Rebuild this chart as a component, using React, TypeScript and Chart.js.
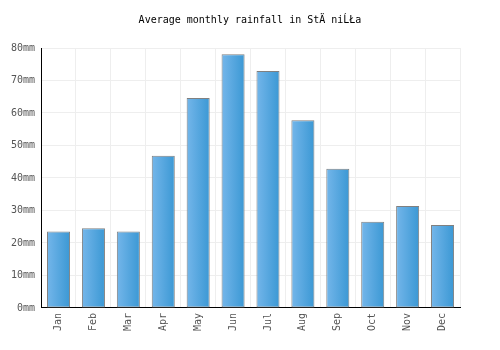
import React, { useEffect, useRef } from "react";
import { Chart, registerables } from "chart.js";

Chart.register(...registerables);

const months = ["Jan", "Feb", "Mar", "Apr", "May", "Jun", "Jul", "Aug", "Sep", "Oct", "Nov", "Dec"];
const rainfall = [23.5, 24.5, 23.5, 46.8, 64.6, 78.1, 72.9, 57.8, 42.8, 26.5, 31.4, 25.5];
const yTicks = [0, 10, 20, 30, 40, 50, 60, 70, 80];
const titleText = "Average monthly rainfall in StÄ niĹŁa";

const FONT = "'DejaVu Sans Mono', monospace";

const centeredTitle = {
  id: "centeredTitle",
  afterDraw(chart: any) {
    const ctx = chart.ctx;
    ctx.save();
    ctx.font = "10px " + FONT;
    ctx.fillStyle = "#000";
    ctx.textAlign = "center";
    ctx.textBaseline = "middle";
    ctx.fillText(titleText, chart.width / 2, 20);
    ctx.restore();
  },
};

export default function App() {
  const ref = useRef<HTMLCanvasElement | null>(null);
  useEffect(() => {
    if (!ref.current) return;
    const chart = new Chart(ref.current, {
      type: "bar",
      data: {
        labels: months,
        datasets: [
          {
            data: rainfall,
            backgroundColor: (ctx: any) => {
              const c = ctx.chart;
              const xs = c.scales && c.scales.x;
              const area = c.chartArea;
              if (!xs || !area || !c.ctx || ctx.dataIndex === undefined) return "#4fa3e0";
              const center = xs.getPixelForValue(ctx.dataIndex);
              const w = (area.right - area.left) / months.length * 0.66;
              if (!isFinite(center) || !isFinite(w)) return "#4fa3e0";
              const g = c.ctx.createLinearGradient(center - w / 2, 0, center + w / 2, 0);
              g.addColorStop(0, "#74b6ea");
              g.addColorStop(1, "#3b98d4");
              return g;
            },
            borderColor: "#808080",
            borderWidth: 1,
            borderSkipped: false,
            barPercentage: 0.66,
            categoryPercentage: 1,
          },
        ],
      },
      options: {
        animation: false,
        responsive: true,
        maintainAspectRatio: false,
        layout: { padding: { left: 5, right: 40, top: 48, bottom: 14 } },
        plugins: {
          legend: { display: false },
          tooltip: { enabled: false },
          title: { display: false },
        },
        scales: {
          x: {
            grid: { color: "#eeeeee", drawTicks: false, offset: true },
            border: { color: "#000", width: 1 },
            ticks: {
              color: "#555",
              font: { family: FONT, size: 10 },
              maxRotation: 90,
              minRotation: 90,
              padding: 5,
            },
          },
          y: {
            min: 0,
            max: 80,
            afterBuildTicks: (axis: any) => {
              axis.ticks = yTicks.map((v) => ({ value: v }));
            },
            grid: { color: "#eeeeee", drawTicks: false },
            border: { color: "#000", width: 1 },
            ticks: {
              color: "#555",
              font: { family: FONT, size: 10 },
              padding: 6,
              callback: (v: any) => v + "mm",
            },
          },
        },
      },
      plugins: [centeredTitle],
    });
    return () => chart.destroy();
  }, []);
  return (
    <div style={{ position: "absolute", left: 0, top: 0, width: 500, height: 350, background: "#fff" }}>
      <canvas ref={ref} />
    </div>
  );
}
